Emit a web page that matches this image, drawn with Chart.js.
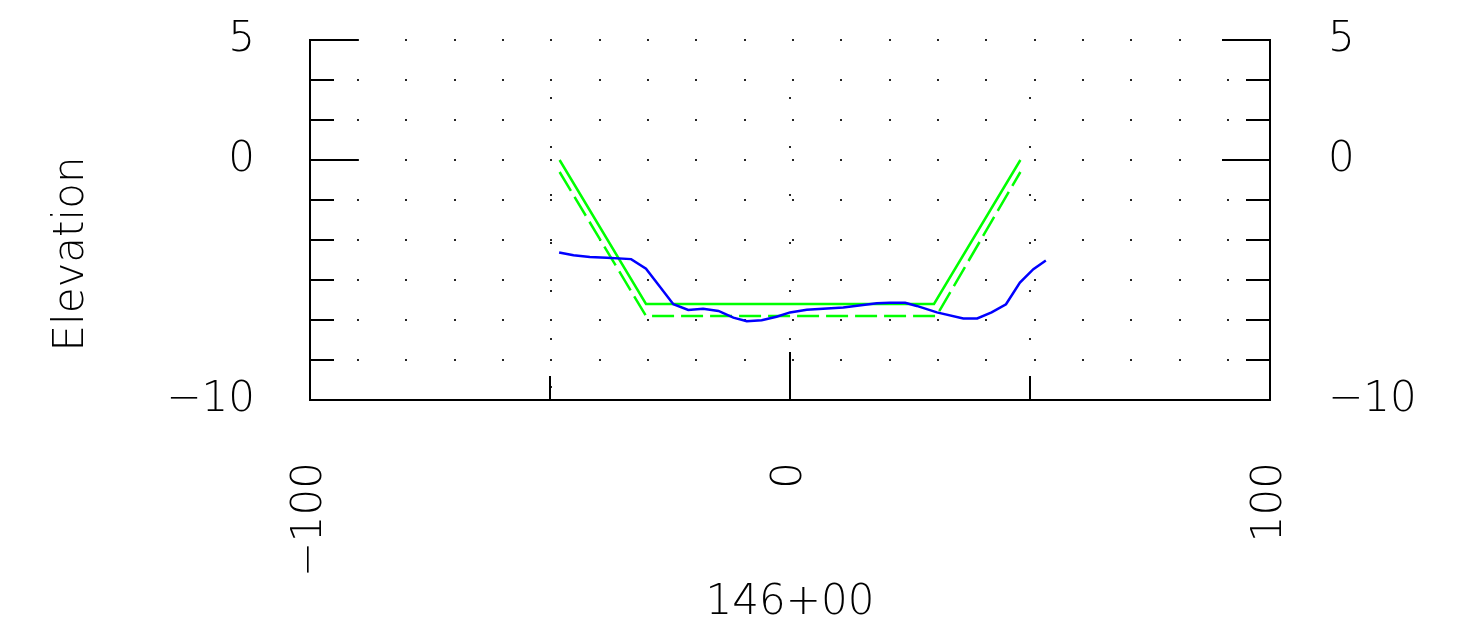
<!DOCTYPE html>
<html><head><meta charset="utf-8">
<script src="https://cdn.jsdelivr.net/npm/chart.js@4/dist/chart.umd.min.js"></script>
<style>html,body{margin:0;padding:0;background:#fff;overflow:hidden}#wrap{width:1466px;height:641px;position:relative}</style>
</head><body><div id="wrap"><canvas id="c" width="1466" height="641"></canvas></div>
<script>
// ---- data ----
const groundX = [-48.1, -45.1, -41.7, -38.2, -33.1, -30.0, -27.1, -24.3, -21.2, -18.1, -14.9, -11.8, -9.0, -5.9, -2.8, 0, 3.5, 11.1, 18.1, 20.8, 24.0, 26.4, 30.6, 36.1, 39.0, 42.0, 45.0, 47.9, 50.7, 53.3];
const groundY = [-3.85, -3.97, -4.04, -4.07, -4.13, -4.53, -5.28, -6.01, -6.25, -6.2, -6.29, -6.57, -6.72, -6.68, -6.53, -6.35, -6.24, -6.15, -5.97, -5.95, -5.95, -6.08, -6.35, -6.6, -6.6, -6.35, -6.01, -5.11, -4.55, -4.19];
const designX = [-48, -30, 30, 48];
const designY = [0, -6, -6, 0];
const subgradeX = [-48, -30, 30.5, 48];
const subgradeY = [-0.5, -6.5, -6.5, -0.5];
const xTickValues = [-100, -50, 0, 50, 100];
const xLabelValues = [-100, 0, 100];
const yTickValues = [5, 10/3, 5/3, 0, -5/3, -10/3, -5, -20/3, -25/3, -10];
const yLabelValues = [5, 0, -10];
const gridDotX = [-90, -79.93, -69.86, -59.79, -49.72, -39.65, -29.58, -19.51, -9.44, 0.63, 10.7, 20.77, 30.84, 40.91, 50.98, 61.05, 71.12, 81.19, 91.26];
const gridDotY = [5, 10/3, 5/3, 0, -5/3, -10/3, -5, -20/3, -25/3];
const markerDotX = [-49.85, 0, 50];
const markerDotY = [2.58, 0.56, -1.44, -3.44, -5.46, -7.46, -9.44];
const xTitle = '146+00';
const yTitle = 'Elevation';

const FAMILY = "'DejaVu Sans', 'Liberation Sans', sans-serif";
const FONT = {family: FAMILY, size: 42, weight: 200};
const near = (a, b) => Math.abs(a - b) < 1e-6;
const fmt = v => String(Math.round(v)).replace('-', '\u2212');
const pts = (xs, ys) => xs.map((x, i) => ({x, y: ys[i]}));

const decor = {
  id: 'decor',
  beforeDatasetsDraw(chart) {
    const {ctx, scales: {x, y}} = chart;
    ctx.save();
    ctx.fillStyle = 'rgba(0,0,0,0.85)';
    for (const gx of gridDotX) for (const gy of gridDotY) {
      ctx.fillRect(Math.round(x.getPixelForValue(gx)) - 1, Math.round(y.getPixelForValue(gy)) - 1, 2, 2);
    }
    for (const gx of markerDotX) for (const gy of markerDotY) {
      ctx.fillRect(Math.round(x.getPixelForValue(gx)) - 1, Math.round(y.getPixelForValue(gy)) - 1, 2, 2);
    }
    ctx.restore();
  },
  afterDraw(chart) {
    const {ctx, scales: {x, y}, chartArea: a} = chart;
    ctx.save();
    ctx.strokeStyle = '#000';
    ctx.lineWidth = 2;
    ctx.beginPath();
    for (const v of yTickValues) {
      const py = Math.round(y.getPixelForValue(v));
      const len = yLabelValues.some(l => near(l, v)) ? 48 : 24;
      ctx.moveTo(a.left, py); ctx.lineTo(a.left + len, py);
      ctx.moveTo(a.right, py); ctx.lineTo(a.right - len, py);
    }
    for (const v of xTickValues) {
      const px = Math.round(x.getPixelForValue(v));
      const len = xLabelValues.some(l => near(l, v)) ? 48 : 24;
      ctx.moveTo(px, a.bottom); ctx.lineTo(px, a.bottom - len);
    }
    ctx.stroke();
    ctx.fillStyle = '#000';
    ctx.font = `200 42px ${FAMILY}`;
    ctx.textAlign = 'center';
    ctx.textBaseline = 'middle';
    ctx.translate(72, 254);
    ctx.rotate(-Math.PI / 2);
    ctx.fillText(yTitle, 0, 0);
    ctx.restore();
  }
};

const yScale = (pos, width, pad) => ({
  type: 'linear', position: pos, min: -10, max: 5, display: true,
  afterBuildTicks: s => { s.ticks = yTickValues.map(v => ({value: v})); },
  afterFit: s => { s.width = width; s.paddingTop = 0; s.paddingBottom = 0; },
  grid: {display: false, drawTicks: false},
  border: {display: true, color: '#000', width: 2},
  ticks: {
    padding: pad, color: '#000', font: FONT, autoSkip: false,
    callback: v => yLabelValues.some(l => near(l, v)) ? fmt(v) : ''
  }
});

new Chart(document.getElementById('c'), {
  type: 'scatter',
  data: {
    datasets: [
      {label: 'Ground', data: pts(groundX, groundY), showLine: true, borderColor: '#0000ff', borderWidth: 2.5, pointRadius: 0, tension: 0},
      {label: 'Design', data: pts(designX, designY), showLine: true, borderColor: '#00ff00', borderWidth: 2.5, pointRadius: 0, tension: 0},
      {label: 'Subgrade', data: pts(subgradeX, subgradeY), showLine: true, borderColor: '#00ff00', borderWidth: 2.5, borderDash: [22, 7], pointRadius: 0, tension: 0}
    ]
  },
  options: {
    responsive: false, animation: false,
    layout: {padding: {top: 40, left: 0, right: 0, bottom: 0}},
    plugins: {legend: {display: false}, tooltip: {enabled: false}},
    scales: {
      x: {
        type: 'linear', position: 'bottom', min: -100, max: 100,
        afterBuildTicks: s => { s.ticks = xTickValues.map(v => ({value: v})); },
        afterFit: s => { s.height = 241; s.paddingLeft = 0; s.paddingRight = 0; },
        grid: {display: false, drawTicks: false},
        border: {display: true, color: '#000', width: 2},
        ticks: {
          padding: 62, color: '#000', font: FONT, autoSkip: false, minRotation: 90, maxRotation: 90,
          callback: v => xLabelValues.some(l => near(l, v)) ? fmt(v) : ''
        },
        title: {display: true, text: xTitle, color: '#000', font: FONT, padding: {top: 0, bottom: 13}}
      },
      y: yScale('left', 310, 55),
      y2: yScale('right', 196, 58)
    }
  },
  plugins: [decor]
});
</script></body></html>
